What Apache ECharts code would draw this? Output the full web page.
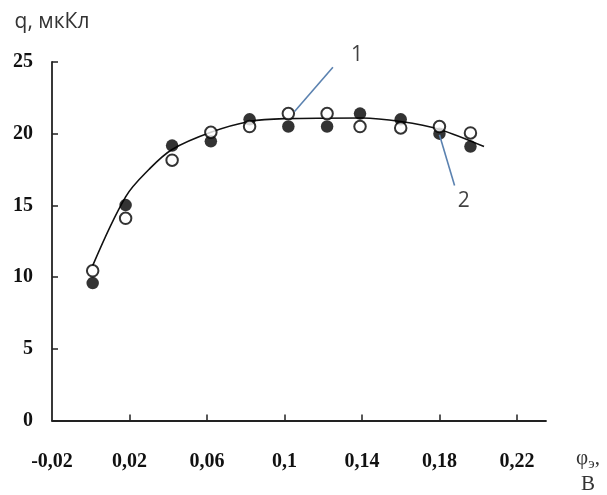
<!DOCTYPE html>
<html>
<head>
<meta charset="utf-8">
<script src="https://cdn.jsdelivr.net/npm/echarts@6/dist/echarts.min.js"></script>
<style>html,body{margin:0;padding:0;background:#fff}#c{width:607px;height:495px}</style>
</head>
<body>
<div id="c"></div>
<script>
// x tick positions and labels (φэ, B)
const xTickValues = [0.02, 0.06, 0.1, 0.14, 0.18, 0.22];
const xLabelValues = [-0.02, 0.02, 0.06, 0.1, 0.14, 0.18, 0.22];
// Series 1 (open circles)
const x1 = [0.001, 0.018, 0.042, 0.062, 0.082, 0.102, 0.122, 0.139, 0.16, 0.18, 0.196];
const y1 = [10.44, 14.1, 18.15, 20.1, 20.5, 21.4, 21.4, 20.5, 20.4, 20.5, 20.05];
// Series 2 (filled circles)
const x2 = [0.001, 0.018, 0.042, 0.062, 0.082, 0.102, 0.122, 0.139, 0.16, 0.18, 0.196];
const y2 = [9.58, 15.02, 19.17, 19.47, 21.0, 20.5, 20.5, 21.4, 21.0, 20.0, 19.1];
// Fitted curve
const xCurve = [0.001, 0.018, 0.03, 0.042, 0.062, 0.082, 0.1, 0.14, 0.16, 0.18, 0.203];
const yCurve = [10.8, 15.6, 17.5, 18.9, 20.1, 20.85, 21.05, 21.1, 20.85, 20.3, 19.1];
// Annotation leader lines [x1, y1, x2, y2] and labels
const leaderLines = [[0.1052, 21.55, 0.125, 24.63], [0.18, 19.93, 0.1878, 16.39]];
const leaderLabels = [{ name: '1', value: [0.1375, 25.5] }, { name: '2', value: [0.1926, 15.3] }];

const zip = (xs, ys) => xs.map((x, i) => [x, ys[i]]);
const fmt = v => String(+(+v).toFixed(2)).replace('.', ',');

const chart = echarts.init(document.getElementById('c'));
chart.setOption({
  backgroundColor: '#fff',
  animation: false,
  grid: { left: 52, right: 61, top: 62, bottom: 73 },
  xAxis: {
    type: 'value', min: -0.02, max: 0.235,
    name: '{p|φ}{s|э}{p|,}\n{p|B}',
    nameLocation: 'end', nameGap: 42,
    nameTextStyle: {
      align: 'center', verticalAlign: 'top', padding: [25, 0, 0, 0],
      rich: {
        p: { fontFamily: 'Liberation Serif', fontSize: 21, color: '#333', lineHeight: 26 },
        s: { fontFamily: 'Liberation Serif', fontSize: 15, color: '#333', verticalAlign: 'bottom', lineHeight: 26, padding: [6, 0, 0, 0] }
      }
    },
    axisLine: { onZero: false, lineStyle: { color: '#222', width: 1.8 } },
    axisTick: { inside: true, length: 6, customValues: xTickValues, lineStyle: { color: '#222', width: 1.5 } },
    axisLabel: {
      customValues: xLabelValues, formatter: fmt, margin: 31,
      fontFamily: 'Liberation Serif', fontWeight: 'bold', fontSize: 20, color: '#111'
    },
    splitLine: { show: false }
  },
  yAxis: {
    type: 'value', min: 0, max: 25, interval: 5,
    name: 'q, мкКл', nameLocation: 'end', nameGap: 29,
    nameTextStyle: { fontFamily: 'Open Sans', fontSize: 21, color: '#333' },
    axisLine: { show: true, onZero: false, lineStyle: { color: '#222', width: 1.8 } },
    axisTick: { show: true, inside: true, length: 6, lineStyle: { color: '#222', width: 1.5 } },
    axisLabel: { margin: 19, fontFamily: 'Liberation Serif', fontWeight: 'bold', fontSize: 20, color: '#111' },
    splitLine: { show: false }
  },
  series: [
    {
      type: 'line', data: zip(xCurve, yCurve), smooth: 0.35, symbol: 'none',
      lineStyle: { color: '#111', width: 1.6 }, z: 2,
      markLine: {
        silent: true, symbol: 'none', label: { show: false },
        lineStyle: { color: '#5b82b0', width: 1.6, type: 'solid' },
        data: leaderLines.map(l => [{ coord: [l[0], l[1]] }, { coord: [l[2], l[3]] }])
      }
    },
    {
      type: 'scatter', name: '2', data: zip(x2, y2), symbol: 'circle', symbolSize: 12.5,
      itemStyle: { color: '#000' }, z: 3
    },
    {
      type: 'scatter', name: '1', data: zip(x1, y1), symbol: 'circle', symbolSize: 11.5,
      itemStyle: { color: '#fff', borderColor: '#000', borderWidth: 2 }, z: 4
    },
    {
      type: 'scatter', data: leaderLabels, symbolSize: 0, clip: false, silent: true,
      label: { show: true, position: 'inside', formatter: p => p.name, fontFamily: 'Open Sans', fontSize: 21, color: '#111' }, z: 5
    }
  ]
});
</script>
</body>
</html>
